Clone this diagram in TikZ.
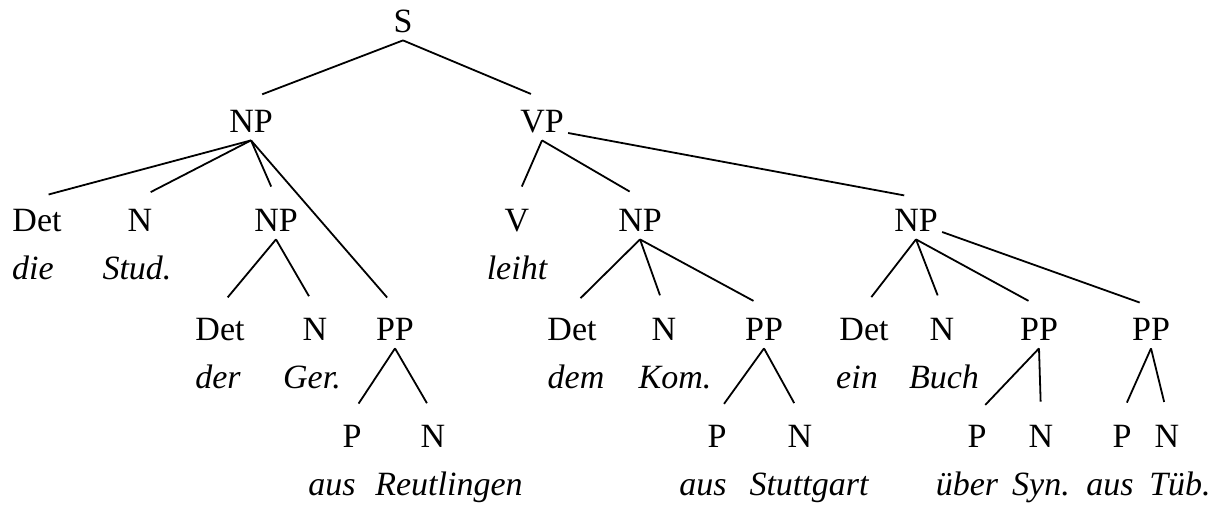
\documentclass[tikz,border=0pt]{standalone}
\usepackage{fontspec}
\setmainfont{Liberation Serif}
\usepackage{tikz}
\usetikzlibrary{positioning}

\begin{document}
\begin{tikzpicture}[x = 0.5pt, y = -0.5pt, node distance = 9pt]
            \tikzstyle{cat} = [anchor = base, inner xsep = 2pt, inner ysep = 0pt, text height = 17pt, text depth = 3.5pt, font = \fontsize{17}{20}\selectfont];
            \tikzstyle{word} = [inner sep = 0pt, text height = 11pt, text depth = 3.5pt, font = \fontsize{17}{20}\selectfont\itshape];
            \tikzstyle{branch} = [line width = 0.9pt, shorten > = 6pt];
            \useasboundingbox (0, 0) rectangle (1220, 506);

            \node [cat] (c0) at (403, 33) {S};

            \node [cat] (c1) at (251, 133) {NP};
            \node [cat] (c2) at (542, 133) {VP};

            \node [cat] (c3) at (37, 232) {Det};
            \node [cat] (c4) at (140, 232) {N};
            \node [cat] (c5) at (276, 232) {NP};
            \node [cat] (c6) at (517, 232) {V};
            \node [cat] (c7) at (640, 232) {NP};
            \node [cat] (c8) at (916, 232) {NP};

            \node [cat] (c9) at (220, 341) {Det};
            \node [cat] (c10) at (315, 341) {N};
            \node [cat] (c11) at (395, 341) {PP};
            \node [cat] (c12) at (572, 341) {Det};
            \node [cat] (c13) at (664, 341) {N};
            \node [cat] (c14) at (764, 341) {PP};
            \node [cat] (c15) at (864, 341) {Det};
            \node [cat] (c16) at (942, 341) {N};
            \node [cat] (c17) at (1039, 341) {PP};
            \node [cat] (c18) at (1151, 341) {PP};

            \node [cat] (c19) at (352, 448) {P};
            \node [cat] (c20) at (433, 448) {N};
            \node [cat] (c21) at (717, 448) {P};
            \node [cat] (c22) at (800, 448) {N};
            \node [cat] (c23) at (977, 448) {P};
            \node [cat] (c24) at (1041, 448) {N};
            \node [cat] (c25) at (1122, 448) {P};
            \node [cat] (c26) at (1167, 448) {N};

            % words
            \node [word, below = of c3, xshift = -2pt] (w3) {die};
            \node [word, below = of c4, xshift = -1.5pt] (w4) {Stud.};
            \node [word, below = of c6] (w6) {leiht};
            \node [word, below = of c9, xshift = -1pt] (w9) {der};
            \node [word, below = of c10, xshift = -1.5pt] (w10) {Ger.};
            \node [word, below = of c12, xshift = 2pt] (w12) {dem};
            \node [word, below = of c13, xshift = 5.5pt] (w13) {Kom.};
            \node [word, below = of c15, xshift = -3.5pt] (w15) {ein};
            \node [word, below = of c16, xshift = 1pt] (w16) {Buch};
            \node [word, below = of c19, xshift = -10pt] (w19) {aus};
            \node [word, below = of c20, xshift = 8pt] (w20) {Reutlingen};
            \node [word, below = of c21, xshift = -7pt] (w21) {aus};
            \node [word, below = of c22, xshift = 4.5pt] (w22) {Stuttgart};
            \node [word, below = of c23, xshift = -5pt] (w23) {über};
            \node [word, below = of c24] (w24) {Syn.};
            \node [word, below = of c25, xshift = -6pt] (w25) {aus};
            \node [word, below = of c26, xshift = 6.5pt] (w26) {Tüb.};

            \foreach \i in {1, 2}
                \draw [branch] (c0.south) -- (c\i.north);
            \foreach \i in {3, 4, 5, 11}
                \draw [branch] (c1.south) -- (c\i.north);
            \foreach \i in {6, 7}
                \draw [branch] (c2.south) -- (c\i.north);
            \draw [branch] (c2.base east) -- (c8.north);
            \foreach \i in {9, 10}
                \draw [branch] (c5.south) -- (c\i.north);
            \foreach \i in {12, 13, 14}
                \draw [branch] (c7.south) -- (c\i.north);
            \foreach \i in {15, 16, 17}
                \draw [branch] (c8.south) -- (c\i.north);
            \draw [branch] (c8.base east) -- (c18.north);
            \foreach \i in {19, 20}
                \draw [branch] (c11.south) -- (c\i.north);
            \foreach \i in {21, 22}
                \draw [branch] (c14.south) -- (c\i.north);
            \foreach \i in {23, 24}
                \draw [branch] (c17.south) -- (c\i.north);
            \foreach \i in {25, 26}
                \draw [branch] (c18.south) -- (c\i.north);
        \end{tikzpicture}
\end{document}
